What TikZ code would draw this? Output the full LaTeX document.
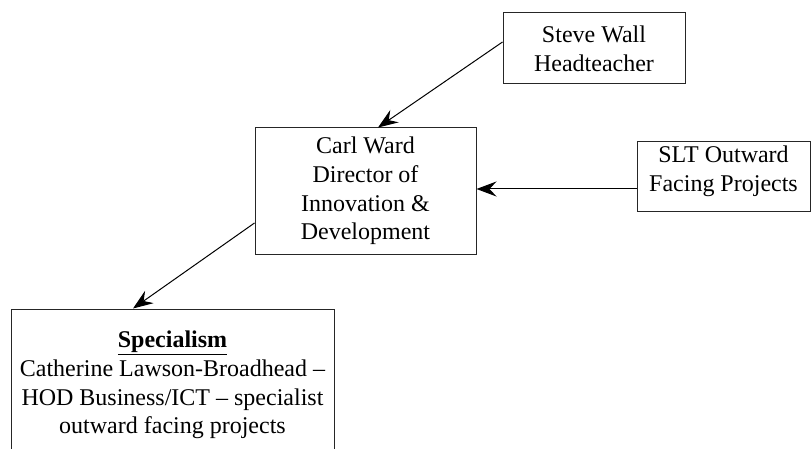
\documentclass[tikz,border=0pt]{standalone}
\usepackage{fontspec}
\setmainfont{Liberation Serif}
\usetikzlibrary{arrows.meta}
\begin{document}
\begin{tikzpicture}[x=1pt,y=1pt,
  box/.style={draw=black!85, line width=1pt, rectangle, align=center, inner sep=0pt,
    font=\fontsize{24}{28.8}\selectfont},
  arr/.style={black, line width=1pt, -{Stealth[length=20pt,width=15pt,inset=7pt]}}]
  \clip (0,0) rectangle (811,-449);
  \fill[white] (0,0) rectangle (811,-449);
  % boxes
  \node[box, minimum width=182pt, minimum height=71pt] (sw) at (594,-48.5)
    {Steve Wall\\Headteacher};
  \node[box, minimum width=221pt, minimum height=126pt] (cw) at (365.5,-191)
    {Carl Ward\\Director of\\Innovation \&\\Development};
  \node[box, minimum width=173pt, minimum height=70pt, text depth=17pt] (slt) at (723.5,-177)
    {SLT Outward\\Facing Projects};
  \node[box, minimum width=323pt, minimum height=152pt] (spec) at (172.5,-385)
    {\underline{\textbf{Specialism}}\\Catherine Lawson-Broadhead –\\HOD Business/ICT – specialist\\outward facing projects};
  % reporting lines
  \draw[arr] ([yshift=6.5pt]sw.west) -- ([xshift=12.5pt]cw.north);
  \draw[arr] ([yshift=-12pt]slt.west) -- ([yshift=-12pt]slt.west -| cw.east);
  \draw[arr] ([yshift=-32pt]cw.west) -- ([xshift=-39.5pt]spec.north);
\end{tikzpicture}
\end{document}
